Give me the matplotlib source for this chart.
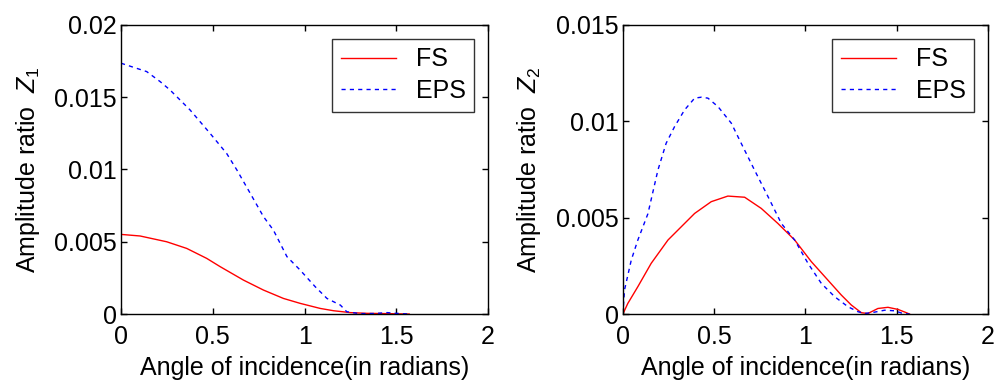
import numpy as np
import matplotlib
matplotlib.use("Agg")
import matplotlib.pyplot as plt

plt.rcParams['font.family'] = ['Liberation Sans', 'DejaVu Sans']
plt.rcParams['mathtext.fontset'] = 'custom'
plt.rcParams['mathtext.it'] = 'Liberation Sans:italic'
plt.rcParams['mathtext.rm'] = 'Liberation Sans'

# left panel: amplitude ratio Z1
fs1_x = [0.0, 0.104, 0.249, 0.358, 0.467, 0.54, 0.667, 0.776, 0.885, 0.976,
         1.085, 1.158, 1.25, 1.34, 1.45, 1.57]
fs1_y = [0.00551, 0.0054, 0.0050, 0.00454, 0.00385, 0.00328, 0.00235, 0.00166,
         0.00108, 0.00074, 0.00039, 0.00023, 0.0001, 0.00005, 0.00003, 0.0]
eps1_x = [0.0, 0.14, 0.213, 0.267, 0.376, 0.485, 0.576, 0.631, 0.704, 0.776,
          0.83, 0.904, 0.976, 1.058, 1.122, 1.195, 1.23, 1.3, 1.38, 1.45, 1.5, 1.57]
eps1_y = [0.01735, 0.01677, 0.01608, 0.0155, 0.01412, 0.0125, 0.0111, 0.00997,
          0.00835, 0.00674, 0.00581, 0.00397, 0.00304, 0.00189, 0.00108, 0.00062,
          0.00016, 0.00003, 0.00004, 0.0001, 0.00005, 0.0]

# right panel: amplitude ratio Z2
fs2_x = [0.0, 0.027, 0.082, 0.155, 0.247, 0.32, 0.393, 0.484, 0.575, 0.667,
         0.758, 0.849, 0.941, 1.032, 1.123, 1.196, 1.251, 1.306, 1.342, 1.397,
         1.452, 1.507, 1.553, 1.57]
fs2_y = [0.0, 0.00055, 0.00142, 0.00263, 0.00384, 0.00453, 0.00522, 0.00583,
         0.00612, 0.00606, 0.00548, 0.0047, 0.00384, 0.00272, 0.00176, 0.00099,
         0.00047, 0.00007, 0.00003, 0.00029, 0.00035, 0.00024, 0.00007, 0.0]
eps2_x = [0.0, 0.009, 0.046, 0.082, 0.137, 0.192, 0.237, 0.283, 0.338, 0.393,
          0.43, 0.466, 0.521, 0.594, 0.648, 0.721, 0.795, 0.868, 0.941, 1.014,
          1.087, 1.16, 1.233, 1.288, 1.324, 1.379, 1.434, 1.488, 1.534, 1.57]
eps2_y = [0.0, 0.00125, 0.0028, 0.00384, 0.0052, 0.00747, 0.00886, 0.00972,
          0.01059, 0.0112, 0.01125, 0.0112, 0.01076, 0.0099, 0.00886, 0.00747,
          0.00609, 0.0047, 0.00384, 0.00263, 0.00159, 0.0009, 0.00038, 0.00012,
          0.00003, 0.0001, 0.0002, 0.00017, 0.00003, 0.0]

fig = plt.figure(figsize=(9.95, 3.83), dpi=100)
ax1 = fig.add_axes([0.1216, 0.180, 0.369, 0.755])
ax2 = fig.add_axes([0.626, 0.180, 0.367, 0.755])

panels = [
    (ax1, fs1_x, fs1_y, eps1_x, eps1_y, 0.02, [0, 0.005, 0.01, 0.015, 0.02],
     ['0', '0.005', '0.01', '0.015', '0.02'], r'Amplitude ratio  $Z_1$'),
    (ax2, fs2_x, fs2_y, eps2_x, eps2_y, 0.015, [0, 0.005, 0.01, 0.015],
     ['0', '0.005', '0.01', '0.015'], r'Amplitude ratio  $Z_2$'),
]

fsz = 18
for ax, fx, fy, ex, ey, ymax, yt, ytl, ylab in panels:
    ax.plot(fx, fy, color='red', lw=1.0, ls='-', label='FS')
    ax.plot(ex, ey, color='blue', lw=1.0, ls=(0, (3, 3)), label='EPS')
    ax.set_xlim(0, 2)
    ax.set_ylim(0, ymax)
    ax.set_xticks([0, 0.5, 1, 1.5, 2])
    ax.set_xticklabels(['0', '0.5', '1', '1.5', '2'])
    ax.set_yticks(yt)
    ax.set_yticklabels(ytl)
    ax.tick_params(direction='in', top=True, right=True, labelsize=fsz,
                   length=4, width=1)
    ax.tick_params(axis='x', pad=8)
    ax.tick_params(axis='y', pad=3)
    for s in ax.spines.values():
        s.set_linewidth(1.0)
    ax.set_xlabel('Angle of incidence(in radians)', fontsize=fsz, labelpad=5)
    ax.set_ylabel(ylab, fontsize=fsz, labelpad=9)
    leg = ax.legend(loc='upper right', fontsize=fsz, frameon=True, fancybox=False,
                    edgecolor='black', handlelength=2.2, handletextpad=0.8,
                    borderaxespad=0.55, borderpad=0.35, labelspacing=0.3)
    leg.get_frame().set_linewidth(1.0)

fig.savefig('out.png', dpi=100)
